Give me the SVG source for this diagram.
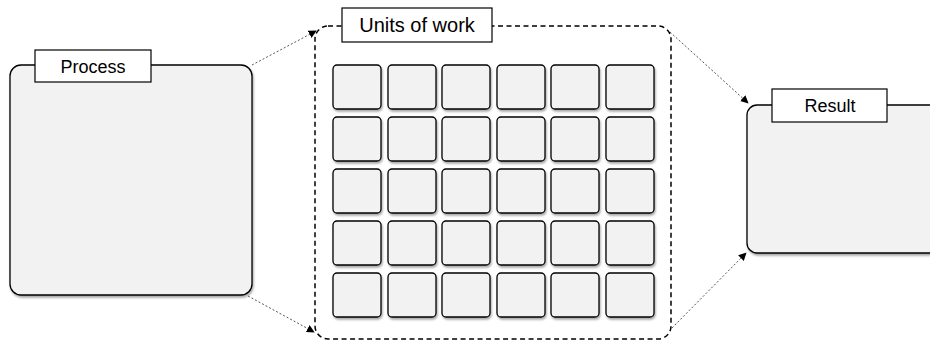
<svg xmlns="http://www.w3.org/2000/svg" width="930" height="346" viewBox="0 0 930 346">
<style>
.box{fill:#f2f2f2;stroke:#000;stroke-width:1.3;filter:url(#sh)}
.cell{fill:#f2f2f2;stroke:#000;stroke-width:1.3;filter:url(#sh)}
.lbl{fill:#fff;stroke:#000;stroke-width:1.2}
.txt{font-family:"Liberation Sans",Arial,sans-serif;fill:#000;text-anchor:middle}
.con{fill:none;stroke:#555;stroke-width:1;stroke-dasharray:2,2;marker-end:url(#ah)}
.group{fill:none;stroke:#000;stroke-width:1.5;stroke-dasharray:5,3.5}
</style>
<defs>
<filter id="sh" x="-10%" y="-10%" width="130%" height="130%">
<feGaussianBlur in="SourceAlpha" stdDeviation="1.2"/>
<feOffset dx="1" dy="2" result="o"/>
<feComponentTransfer><feFuncA type="linear" slope="0.35"/></feComponentTransfer>
<feMerge><feMergeNode/><feMergeNode in="SourceGraphic"/></feMerge>
</filter>
<marker id="ah" viewBox="0 0 10 10" refX="9" refY="5" markerWidth="8" markerHeight="8" markerUnits="userSpaceOnUse" orient="auto">
<path d="M0,0 L10,5 L0,10 z" fill="#000"/>
</marker>
</defs>

<g id="process">
<rect class="box" x="10" y="65" width="242" height="230" rx="11"/>
<rect class="lbl" x="35" y="50" width="116" height="32"/>
<text class="txt" x="93" y="73" font-size="18">Process</text>
</g>

<g id="units">
<rect class="group" x="315" y="26" width="356" height="313" rx="13"/>
<rect class="lbl" x="342" y="8" width="150" height="34" fill="#fff"/>
<text class="txt" x="417" y="32" font-size="20">Units of work</text>
<g id="cells">
<rect class="cell" x="333" y="65" width="48" height="44" rx="4"/>
<rect class="cell" x="388" y="65" width="48" height="44" rx="4"/>
<rect class="cell" x="442" y="65" width="48" height="44" rx="4"/>
<rect class="cell" x="497" y="65" width="48" height="44" rx="4"/>
<rect class="cell" x="551" y="65" width="48" height="44" rx="4"/>
<rect class="cell" x="606" y="65" width="48" height="44" rx="4"/>
<rect class="cell" x="333" y="117" width="48" height="44" rx="4"/>
<rect class="cell" x="388" y="117" width="48" height="44" rx="4"/>
<rect class="cell" x="442" y="117" width="48" height="44" rx="4"/>
<rect class="cell" x="497" y="117" width="48" height="44" rx="4"/>
<rect class="cell" x="551" y="117" width="48" height="44" rx="4"/>
<rect class="cell" x="606" y="117" width="48" height="44" rx="4"/>
<rect class="cell" x="333" y="169" width="48" height="44" rx="4"/>
<rect class="cell" x="388" y="169" width="48" height="44" rx="4"/>
<rect class="cell" x="442" y="169" width="48" height="44" rx="4"/>
<rect class="cell" x="497" y="169" width="48" height="44" rx="4"/>
<rect class="cell" x="551" y="169" width="48" height="44" rx="4"/>
<rect class="cell" x="606" y="169" width="48" height="44" rx="4"/>
<rect class="cell" x="333" y="221" width="48" height="44" rx="4"/>
<rect class="cell" x="388" y="221" width="48" height="44" rx="4"/>
<rect class="cell" x="442" y="221" width="48" height="44" rx="4"/>
<rect class="cell" x="497" y="221" width="48" height="44" rx="4"/>
<rect class="cell" x="551" y="221" width="48" height="44" rx="4"/>
<rect class="cell" x="606" y="221" width="48" height="44" rx="4"/>
<rect class="cell" x="333" y="273" width="48" height="44" rx="4"/>
<rect class="cell" x="388" y="273" width="48" height="44" rx="4"/>
<rect class="cell" x="442" y="273" width="48" height="44" rx="4"/>
<rect class="cell" x="497" y="273" width="48" height="44" rx="4"/>
<rect class="cell" x="551" y="273" width="48" height="44" rx="4"/>
<rect class="cell" x="606" y="273" width="48" height="44" rx="4"/>
</g>
</g>

<g id="result">
<rect class="box" x="747" y="105" width="200" height="148" rx="10"/>
<rect class="lbl" x="772" y="89" width="115" height="33"/>
<text class="txt" x="830" y="112" font-size="18">Result</text>
</g>

<g id="connectors">
<path class="con" d="M252,65 L316,31"/>
<path class="con" d="M248,296 L314,332"/>
<path class="con" d="M670,32 L748,103"/>
<path class="con" d="M672,328 L746,253"/>
</g>
</svg>
